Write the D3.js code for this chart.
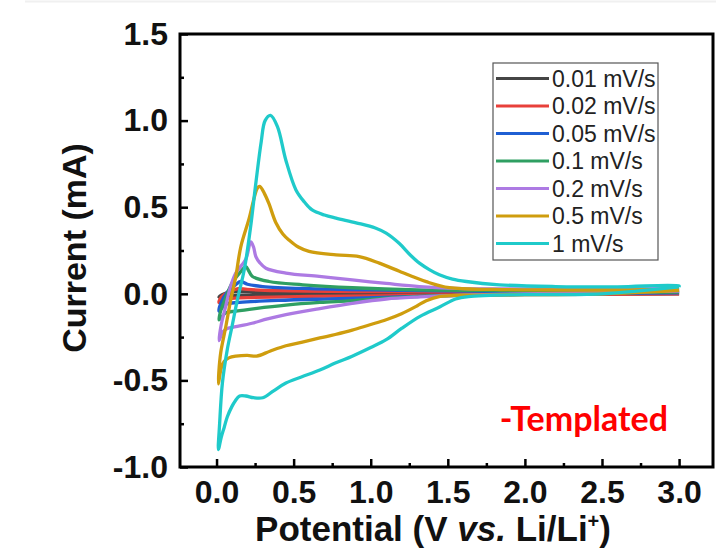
<!DOCTYPE html>
<html>
<head>
<meta charset="utf-8">
<script src="https://cdn.jsdelivr.net/npm/d3@7"></script>
<style>
  body { margin: 0; background: #fff; }
  svg { display: block; }
</style>
</head>
<body>
<div id="chart"></div>
<script>
// scan rates shown in the legend
var scanRates = ['0.01 mV/s', '0.02 mV/s', '0.05 mV/s', '0.1 mV/s', '0.2 mV/s', '0.5 mV/s', '1 mV/s'];
var rateColors = ['#454545', '#e8403a', '#1f5fd3', '#2f9f62', '#ad7ae3', '#cf9d0e', '#1fcaca'];

var xTicks = [0, 0.5, 1.0, 1.5, 2.0, 2.5, 3.0];
var yTicks = [-1.0, -0.5, 0.0, 0.5, 1.0, 1.5];

// each loop: [potential V, current mA], cathodic sweep from 3.0 V down, then anodic back up
var cv001 = [[3.0, 0.0], [1.5, -0.005], [0.5, -0.008], [0.1, -0.01], [0.016, -0.02],
  [0.05, 0.0], [0.12, 0.012], [0.3, 0.008], [1.0, 0.005], [3.0, 0.005]];

var cv002 = [[3.0, 0.0], [2.0, -0.005], [1.2, -0.01], [0.6, -0.015], [0.2, -0.022], [0.06, -0.03], [0.016, -0.05],
  [0.03, -0.02], [0.08, 0.01], [0.14, 0.03], [0.2, 0.025], [0.4, 0.018], [1.0, 0.012], [2.0, 0.008], [3.0, 0.01]];

var cv005 = [[3.0, 0.005], [2.0, -0.002], [1.3, -0.015], [0.8, -0.028], [0.4, -0.038], [0.15, -0.05], [0.06, -0.06], [0.016, -0.1],
  [0.03, -0.05], [0.07, 0.01], [0.12, 0.05], [0.157, 0.071], [0.2, 0.055], [0.3, 0.042], [0.6, 0.03], [1.2, 0.02], [2.0, 0.012], [3.0, 0.012]];

var cv01 = [[3.0, 0.01], [2.0, 0.0], [1.4, -0.012], [1.1, -0.025], [0.88, -0.04], [0.67, -0.05], [0.45, -0.065], [0.25, -0.085], [0.125, -0.1], [0.06, -0.11], [0.016, -0.15],
  [0.03, -0.09], [0.06, -0.02], [0.1, 0.06], [0.15, 0.12], [0.19, 0.157], [0.21, 0.13], [0.233, 0.1], [0.34, 0.071], [0.56, 0.052], [0.88, 0.035], [1.3, 0.023], [2.0, 0.02], [3.0, 0.02]];

var cv02 = [[3.0, 0.015], [2.0, 0.0], [1.6, -0.008], [1.32, -0.018], [1.1, -0.03], [0.88, -0.055], [0.67, -0.085], [0.45, -0.12], [0.33, -0.145], [0.23, -0.17], [0.125, -0.19], [0.07, -0.2], [0.04, -0.22], [0.016, -0.27],
  [0.03, -0.18], [0.06, -0.07], [0.09, 0.04], [0.125, 0.12], [0.19, 0.2], [0.222, 0.3], [0.24, 0.27], [0.255, 0.215], [0.28, 0.18], [0.32, 0.148], [0.45, 0.12], [0.666, 0.1], [0.88, 0.08], [1.1, 0.06], [1.316, 0.042], [1.6, 0.03], [2.2, 0.028], [3.0, 0.03]];

var cv05 = [[3.0, 0.02], [2.5, 0.0], [2.0, -0.005], [1.6, -0.008], [1.45, -0.015], [1.36, -0.04], [1.3, -0.07], [1.2, -0.115], [1.1, -0.15], [0.99, -0.18], [0.88, -0.21], [0.77, -0.235], [0.67, -0.255], [0.55, -0.28], [0.45, -0.3], [0.35, -0.33], [0.26, -0.36], [0.2, -0.355], [0.125, -0.36], [0.08, -0.37], [0.05, -0.39], [0.03, -0.43], [0.012, -0.52],
  [0.015, -0.45], [0.027, -0.34], [0.06, -0.19], [0.092, -0.035], [0.125, 0.1], [0.157, 0.27], [0.21, 0.43], [0.265, 0.61], [0.28, 0.62], [0.31, 0.58], [0.34, 0.52], [0.385, 0.41], [0.43, 0.345], [0.47, 0.31], [0.53, 0.27], [0.6, 0.245], [0.775, 0.225], [0.925, 0.215], [1.056, 0.177], [1.186, 0.13], [1.27, 0.1], [1.36, 0.07], [1.51, 0.035], [1.8, 0.025], [2.5, 0.022], [3.0, 0.025]];

var cv1 = [[3.0, 0.04], [2.5, 0.0], [2.0, -0.005], [1.8, -0.008], [1.65, -0.015], [1.55, -0.03], [1.45, -0.075], [1.32, -0.13], [1.2, -0.2], [1.1, -0.265], [1.0, -0.31], [0.88, -0.36], [0.77, -0.4], [0.67, -0.44], [0.55, -0.48], [0.45, -0.515], [0.37, -0.56], [0.3, -0.6], [0.24, -0.6], [0.19, -0.59], [0.15, -0.59], [0.12, -0.62], [0.1, -0.65], [0.07, -0.71], [0.05, -0.77], [0.03, -0.83], [0.012, -0.9],
  [0.02, -0.75], [0.038, -0.515], [0.07, -0.32], [0.1, -0.19], [0.135, -0.035], [0.18, 0.14], [0.22, 0.38], [0.255, 0.64], [0.29, 0.88], [0.315, 1.0], [0.35, 1.03], [0.395, 0.965], [0.45, 0.77], [0.515, 0.6], [0.57, 0.53], [0.62, 0.484], [0.7, 0.455], [0.775, 0.437], [0.905, 0.41], [1.03, 0.38], [1.1, 0.35], [1.186, 0.29], [1.25, 0.23], [1.316, 0.177], [1.38, 0.14], [1.445, 0.11], [1.53, 0.085], [1.62, 0.071], [1.835, 0.052], [2.2, 0.042], [2.6, 0.04], [3.0, 0.045], [3.0, 0.04]];

var loops = [cv001, cv002, cv005, cv01, cv02, cv05, cv1];

var width = 716, height = 560;
var margin = {top: 34, right: 3, bottom: 93, left: 180};

var svg = d3.select('#chart').append('svg')
  .attr('width', width)
  .attr('height', height)
  .style('font-family', '"Liberation Sans", Arial, sans-serif');

// faint edge from the source scan
svg.append('line')
  .attr('x1', 25).attr('x2', width).attr('y1', 1.5).attr('y2', 1.5)
  .attr('stroke', '#f0f0f0').attr('stroke-width', 2);

var x = d3.scaleLinear().domain([-0.237, 3.22]).range([margin.left, width - margin.right]);
var y = d3.scaleLinear().domain([-1.0, 1.5]).range([height - margin.bottom, margin.top]);

// hyphen instead of unicode minus, like the original figure
var tickFmt = function(d) { return d3.format('.1f')(d).replace('\u2212', '-'); };

var plot = svg.append('g');

var line = d3.line()
  .x(function(d) { return x(d[0]); })
  .y(function(d) { return y(d[1]); })
  .curve(d3.curveCatmullRom.alpha(0.5));

plot.selectAll('path.cv')
  .data(loops)
  .enter()
  .append('path')
  .attr('class', 'cv')
  .attr('d', line)
  .attr('fill', 'none')
  .attr('stroke', function(d, i) { return rateColors[i]; })
  .attr('stroke-width', 3.3)
  .attr('stroke-linejoin', 'round');

// axes, ticks pointing inwards
var xAxis = svg.append('g')
  .attr('transform', 'translate(0,' + (height - margin.bottom) + ')')
  .call(d3.axisBottom(x).tickValues(xTicks).tickSize(-8).tickPadding(13).tickFormat(tickFmt));
var xMinor = svg.append('g')
  .attr('transform', 'translate(0,' + (height - margin.bottom) + ')')
  .call(d3.axisBottom(x).tickValues([0.25, 0.75, 1.25, 1.75, 2.25, 2.75]).tickSize(-4).tickFormat(''));

var yAxis = svg.append('g')
  .attr('transform', 'translate(' + margin.left + ',0)')
  .call(d3.axisLeft(y).tickValues(yTicks).tickSize(-8).tickPadding(12).tickFormat(tickFmt));
var yMinor = svg.append('g')
  .attr('transform', 'translate(' + margin.left + ',0)')
  .call(d3.axisLeft(y).tickValues([-0.75, -0.25, 0.25, 0.75, 1.25]).tickSize(-4).tickFormat(''));

[xAxis, xMinor, yAxis, yMinor].forEach(function(g) {
  g.select('.domain').remove();
  g.selectAll('.tick line').attr('stroke', '#000').attr('stroke-width', 2.5);
  g.selectAll('.tick text')
    .attr('fill', '#111')
    .style('font-size', '32px')
    .style('font-weight', 'bold');
});

// frame
svg.append('rect')
  .attr('x', margin.left)
  .attr('y', margin.top)
  .attr('width', width - margin.left - margin.right)
  .attr('height', height - margin.top - margin.bottom)
  .attr('fill', 'none')
  .attr('stroke', '#000')
  .attr('stroke-width', 3);

// axis titles
var xTitle = svg.append('text')
  .attr('x', 433)
  .attr('y', 541)
  .attr('text-anchor', 'middle')
  .style('font-size', '35px')
  .style('font-weight', 'bold')
  .attr('fill', '#111');
xTitle.append('tspan').text('Potential (V ');
xTitle.append('tspan').style('font-style', 'italic').text('vs.');
xTitle.append('tspan').text(' Li/Li');
xTitle.append('tspan').attr('dy', -13).style('font-size', '20px').text('+');
xTitle.append('tspan').attr('dy', 13).text(')');

svg.append('text')
  .attr('transform', 'translate(86,248) rotate(-90)')
  .attr('text-anchor', 'middle')
  .style('font-size', '34px')
  .style('font-weight', 'bold')
  .attr('fill', '#111')
  .text('Current (mA)');

// legend
var legend = svg.append('g').attr('transform', 'translate(493,63)');
legend.append('rect')
  .attr('width', 165)
  .attr('height', 197)
  .attr('fill', '#fff')
  .attr('stroke', '#555')
  .attr('stroke-width', 1.2);

var rows = legend.selectAll('g.row')
  .data(scanRates)
  .enter()
  .append('g')
  .attr('class', 'row')
  .attr('transform', function(d, i) { return 'translate(0,' + (15.5 + i * 27.5) + ')'; });
rows.append('line')
  .attr('x1', 3).attr('x2', 56)
  .attr('stroke', function(d, i) { return rateColors[i]; })
  .attr('stroke-width', 3.2);
rows.append('text')
  .attr('x', 59)
  .attr('dy', '0.36em')
  .style('font-size', '23px')
  .attr('fill', '#222')
  .text(function(d) { return d; });

svg.append('text')
  .attr('x', 668)
  .attr('y', 431)
  .attr('text-anchor', 'end')
  .style('font-family', 'Lato, "Open Sans", sans-serif')
  .style('font-size', '34px')
  .style('font-weight', 'bold')
  .attr('fill', '#ff0000')
  .text('-Templated');
</script>
</body>
</html>
